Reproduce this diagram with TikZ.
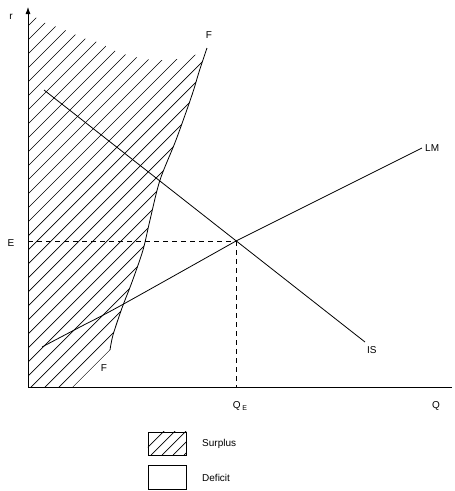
\documentclass[tikz,border=0pt]{standalone}
\usepackage{fontspec}
\setmainfont{Liberation Sans}
\usetikzlibrary{arrows.meta}
\begin{document}
\begin{tikzpicture}[x=1pt,y=-1pt,
  curve/.style={line width=0.8pt},
  hatchline/.style={line width=0.7pt},
  dashline/.style={line width=0.6pt,dash pattern=on 5pt off 4pt},
  lbl/.style={inner sep=0pt,font=\fontsize{10}{12}\selectfont},
  legbox/.style={draw,line width=0.5pt}]
\useasboundingbox (0,0) rectangle (455,491);
% key points
\coordinate (O) at (28,387);
\coordinate (Ytop) at (28,7);
\coordinate (Xend) at (452,387);
\coordinate (E) at (236,241);
\coordinate (EY) at (28,241);
\coordinate (EX) at (236,387);
\coordinate (IS1) at (44,90);
\coordinate (IS2) at (365,342);
\coordinate (LM1) at (42,347);
\coordinate (LM2) at (422,148);
\coordinate (Ftop) at (207,48);
\coordinate (Fbot) at (110,350);
\coordinate (Hb) at (73,387);
% hatched surplus region
\begin{scope}
\clip (28,12) -- plot[smooth] coordinates {(28,12) (43,22) (57,27) (72,33) (83,38) (100,43) (113,50) (127,55) (140,58) (153,60) (167,60) (185,58) (200,53) (207,48)}
  -- plot[smooth] coordinates {(207,48) (199,72) (192,95) (176,140) (160,180) (150,220) (143,250) (132,282) (122,308) (113,335) (110,350)}
  -- (Hb) -- (O) -- cycle;
\foreach \c in {40,54,...,600} {
  \draw[hatchline] (\c,0) -- (\c-600,600);
}
\end{scope}
% FF curve
\draw[curve] plot[smooth] coordinates {(207,48) (199,72) (192,95) (176,140) (160,180) (150,220) (143,250) (132,282) (122,308) (113,335) (110,350)};
% axes
\draw[line width=0.8pt,-{Latex[length=7pt,width=5pt]}] (O) -- (Ytop);
\draw[line width=0.8pt] (O) -- (Xend);
% IS and LM
\draw[curve] (IS1) -- (IS2);
\draw[curve] plot[smooth] coordinates {(42,347) (80,327) (120,306) (236,241)} -- (LM2);
% dashed lines
\draw[dashline] (EY) -- (E);
\draw[dashline] (E) -- (EX);
% labels
\node[lbl] (lr) at (11,17) {r};
\node[lbl] (lE) at (11,243) {E};
\node[lbl] (lF1) at (209,35) {F};
\node[lbl] (lF2) at (104,368) {F};
\node[lbl,anchor=west] (lLM) at (425,148) {LM};
\node[lbl,anchor=west] (lIS) at (367,350) {IS};
\node[lbl] (lQE) at (240,406) {Q\,\raisebox{-2.5pt}{\fontsize{7}{8}\selectfont E}};
\node[lbl] (lQ) at (436,406) {Q};
% legend
\node[legbox,minimum width=38pt,minimum height=23pt,inner sep=0pt] (sbox) at (167,443.5) {};
\begin{scope}
\clip (sbox.south west) rectangle (sbox.north east);
\foreach \c in {140,151,...,250} {
  \draw[hatchline] (\c,455) -- (\c+30,425);
}
\end{scope}
\node[legbox,minimum width=38pt,minimum height=24pt,inner sep=0pt] (dbox) at (167,477) {};
\node[lbl,anchor=west] (ls) at (202,444) {Surplus};
\node[lbl,anchor=west] (ld) at (202,478) {Deficit};
\end{tikzpicture}
\end{document}
